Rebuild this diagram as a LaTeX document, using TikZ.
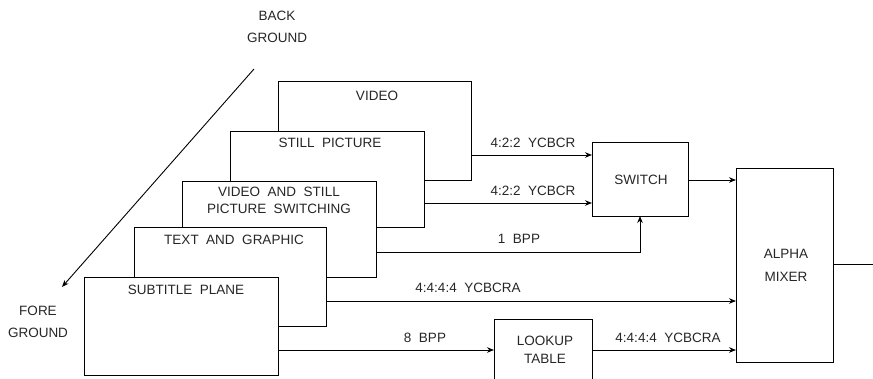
\documentclass[tikz,border=0pt]{standalone}
\usepackage{fontspec}
\setmainfont[WordSpace=2]{Liberation Sans}
\usetikzlibrary{arrows.meta}
\begin{document}
\begin{tikzpicture}[x=1pt,y=-1pt,
  box/.style={draw, fill=white, line width=0.9pt, anchor=north west, inner sep=0pt, outer sep=0pt},
  txt/.style={font=\fontsize{13.5}{17}\selectfont, inner sep=0pt, align=center, text=black!85},
  arr/.style={line width=0.9pt, -{Stealth[length=7pt,width=5.5pt]}},
  ln/.style={line width=0.9pt}]
\path[use as bounding box, clip] (0,0) rectangle (873,378);
% layered planes, back to front
\node[box, minimum width=193pt, minimum height=99pt] (video) at (278,81) {};
\node[txt] (tvideo) at (377,96) {VIDEO};
\node[box, minimum width=194pt, minimum height=96pt] (still) at (230,131) {};
\node[txt] (tstill) at (330,143) {STILL PICTURE};
\node[box, minimum width=194pt, minimum height=96pt] (vas) at (182,181) {};
\node[txt, font=\fontsize{13.5}{17}\selectfont] (tvas) at (279,200.5) {VIDEO AND STILL\\PICTURE SWITCHING};
\node[box, minimum width=192pt, minimum height=99pt] (tag) at (134,227) {};
\node[txt] (ttag) at (234,240) {TEXT AND GRAPHIC};
\node[box, minimum width=194pt, minimum height=98pt] (sub) at (84,277) {};
\node[txt] (tsub) at (186,290) {SUBTITLE PLANE};
% processing blocks
\node[box, minimum width=96pt, minimum height=74pt] (switch) at (592,142) {};
\node[txt] (tswitch) at (641,180) {SWITCH};
\node[box, minimum width=97pt, minimum height=194pt] (alpha) at (736,168) {};
\node[txt, font=\fontsize{13.5}{23}\selectfont] (talpha) at (786,265.5) {ALPHA\\MIXER};
\node[box, minimum width=98pt, minimum height=80pt] (lookup) at (494,319) {};
\node[txt, font=\fontsize{13.5}{18}\selectfont] (tlookup) at (545,350) {LOOKUP\\TABLE};
% background / foreground
\node[txt, font=\fontsize{13.5}{22}\selectfont] (back) at (277,27) {BACK\\GROUND};
\node[txt, font=\fontsize{13.5}{22}\selectfont] (fore) at (38,322) {FORE\\GROUND};
\coordinate (dtop) at (254,69);
\coordinate (dbot) at (62,287);
\draw[arr] (dtop) -- (dbot);
% connectors
\draw[arr] (video.east |- 0,155) -- (switch.west |- 0,155);
\node[txt] (l1) at (533,143) {4:2:2 YCBCR};
\draw[arr] (still.east |- 0,203) -- (switch.west |- 0,203);
\node[txt] (l2) at (533,191) {4:2:2 YCBCR};
\draw[arr] (vas.east |- 0,252) -- (switch.south |- 0,252) -- (switch.south);
\node[txt] (l3) at (519,239) {1 BPP};
\draw[arr] (tag.east |- 0,301) -- (alpha.west |- 0,301);
\node[txt] (l4) at (468,288) {4:4:4:4 YCBCRA};
\draw[arr] (sub.east |- 0,350) -- (lookup.west |- 0,350);
\node[txt] (l5) at (425,338) {8 BPP};
\draw[arr] (lookup.east |- 0,350) -- (alpha.west |- 0,350);
\node[txt] (l6) at (668,338) {4:4:4:4 YCBCRA};
\draw[arr] (switch.east |- 0,180) -- (alpha.west |- 0,180);
\coordinate (out) at (875,264);
\draw[ln] (alpha.east |- out) -- (out);
\end{tikzpicture}
\end{document}
